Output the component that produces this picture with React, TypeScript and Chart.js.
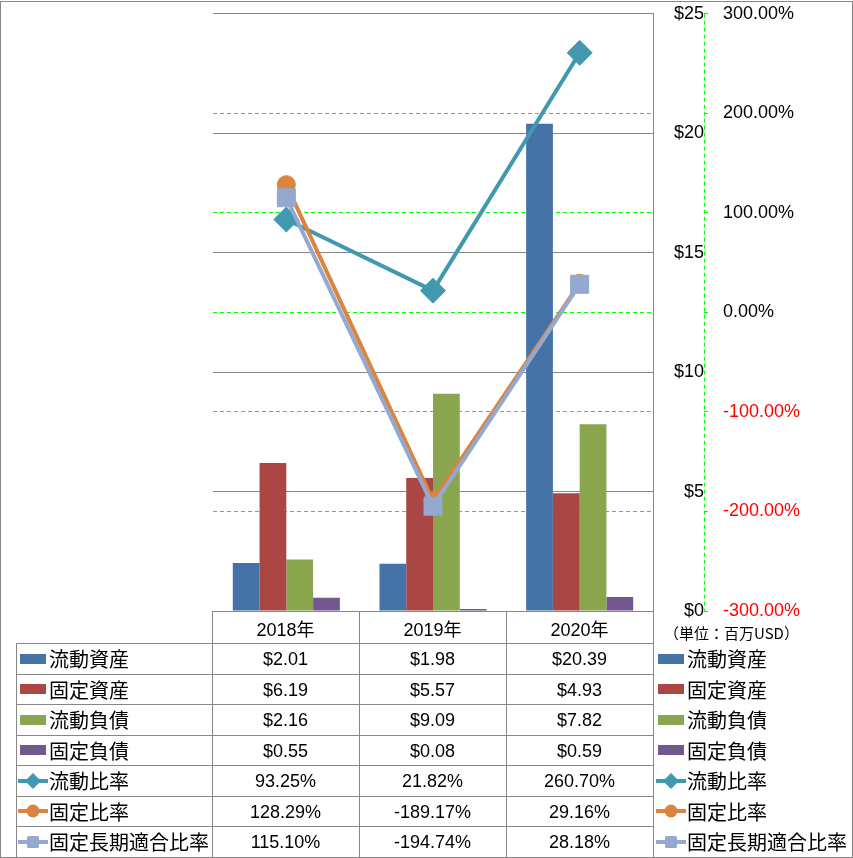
import React, { useEffect, useRef } from 'react';
import { Chart, registerables } from 'chart.js';
Chart.register(...registerables);

const categories = ['2018年', '2019年', '2020年'];
const currentAssets = [2.01, 1.98, 20.39];
const fixedAssets = [6.19, 5.57, 4.93];
const currentLiabilities = [2.16, 9.09, 7.82];
const fixedLiabilities = [0.55, 0.08, 0.59];
const currentRatio = [93.25, 21.82, 260.7];
const fixedRatio = [128.29, -189.17, 29.16];
const fixedLongTermRatio = [115.1, -194.74, 28.18];
const unitLabel = '（単位：百万USD）';

const barSeries = [
  { name: '流動資産', data: currentAssets, color: '#4572A7' },
  { name: '固定資産', data: fixedAssets, color: '#AA4643' },
  { name: '流動負債', data: currentLiabilities, color: '#89A54E' },
  { name: '固定負債', data: fixedLiabilities, color: '#71588F' },
];
const lineSeries = [
  { name: '流動比率', data: currentRatio, color: '#4198AF', marker: 'diamond' },
  { name: '固定比率', data: fixedRatio, color: '#DB843D', marker: 'circle' },
  { name: '固定長期適合比率', data: fixedLongTermRatio, color: '#93A9CF', marker: 'square' },
];

const GRID_GRAY = '#868686';
const GREEN = '#00FF00';
const NUM_FONT = '"Liberation Sans", "Noto Sans CJK JP", sans-serif';
const JP_FONT = '"Noto Sans CJK JP", sans-serif';

const y1AxisLine = {
  id: 'y1AxisLine',
  afterDraw(chart: any) {
    const s = chart.scales.y1;
    const { ctx, chartArea } = chart;
    ctx.save();
    ctx.strokeStyle = GREEN;
    ctx.lineWidth = 1;
    ctx.setLineDash([4, 3]);
    const x = Math.round(s.left) + 0.5;
    ctx.beginPath();
    ctx.moveTo(x, chartArea.top);
    ctx.lineTo(x, chartArea.bottom);
    ctx.stroke();
    ctx.restore();
  },
};

function Key({ kind, color, marker }: { kind: string; color: string; marker?: string }) {
  return (
    <svg width={30} height={18} style={{ display: 'block' }}>
      {kind === 'bar' ? (
        <rect x={2} y={4} width={26} height={10} fill={color} />
      ) : (
        <g>
          <line x1={0} y1={9} x2={30} y2={9} stroke={color} strokeWidth={4} />
          {marker === 'diamond' && <polygon points="15,1 23,9 15,17 7,9" fill={color} />}
          {marker === 'circle' && <circle cx={15} cy={9} r={6.5} fill={color} />}
          {marker === 'square' && <rect x={9} y={3} width={12} height={12} rx={1.5} fill={color} />}
        </g>
      )}
    </svg>
  );
}

const colX = [16, 212, 359, 506, 653];
const rowY = [611, 643, 674, 704, 735, 765, 796, 826, 857];

export default function App() {
  const ref = useRef<HTMLCanvasElement>(null);
  useEffect(() => {
    const canvas = ref.current!;
    Chart.defaults.font.family = NUM_FONT;
    Chart.defaults.font.size = 18;
    Chart.defaults.color = '#000';
    const chart = new Chart(canvas, {
      type: 'bar',
      data: {
        labels: categories,
        datasets: [
          ...barSeries.map((s) => ({
            type: 'bar' as const,
            label: s.name,
            data: s.data,
            backgroundColor: s.color,
            yAxisID: 'y',
            order: 10,
            categoryPercentage: 0.73,
            barPercentage: 1,
          })),
          ...lineSeries.map((s, i) => ({
            type: 'line' as const,
            label: s.name,
            data: s.data,
            borderColor: s.color,
            backgroundColor: s.color,
            borderWidth: 4,
            yAxisID: 'y1',
            order: 3 - i,
            tension: 0,
            pointStyle: s.marker === 'diamond' ? 'rectRot' : s.marker === 'circle' ? 'circle' : 'rect',
            pointRadius: s.marker === 'diamond' ? 12.5 : s.marker === 'circle' ? 9 : 12.7,
            pointBackgroundColor: s.color,
            pointBorderColor: s.color,
            pointBorderWidth: 1,
          })),
        ] as any,
      },
      options: {
        responsive: false,
        animation: false,
        layout: { padding: { left: 213, top: 13, bottom: 247, right: 49 } },
        plugins: { legend: { display: false }, tooltip: { enabled: false } },
        scales: {
          x: { display: false, offset: true },
          y: {
            position: 'right',
            min: 0,
            max: 25,
            ticks: {
              stepSize: 5,
              callback: (v: any) => '$' + v,
              crossAlign: 'far',
              padding: 19,
              color: '#000',
            },
            grid: { color: GRID_GRAY, drawTicks: false, lineWidth: 1 },
            border: { display: true, color: GRID_GRAY },
            afterFit: (s: any) => {
              s.width = 51;
              s.paddingTop = 0;
              s.paddingBottom = 0;
            },
          },
          y1: {
            position: 'right',
            min: -300,
            max: 300,
            ticks: {
              stepSize: 100,
              callback: (v: any) => Number(v).toFixed(2) + '%',
              color: (c: any) => (c.tick && c.tick.value < 0 ? '#FF0000' : '#000'),
              padding: 15,
            },
            grid: {
              color: (c: any) => (c.tick && Math.abs(c.tick.value) === 300 ? 'rgba(0,0,0,0)' : GREEN),
              tickColor: GREEN,
              tickLength: 4,
              drawOnChartArea: true,
            },
            border: { display: false, dash: [4, 3] },
            afterFit: (s: any) => {
              s.width = 100;
              s.paddingTop = 0;
              s.paddingBottom = 0;
            },
          },
        } as any,
      },
      plugins: [y1AxisLine],
    });
    return () => chart.destroy();
  }, []);

  const rows = [
    ...barSeries.map((s) => ({ name: s.name, kind: 'bar', color: s.color, marker: undefined as any, cells: s.data.map((v) => '$' + v.toFixed(2)) })),
    ...lineSeries.map((s) => ({ name: s.name, kind: 'line', color: s.color, marker: s.marker, cells: s.data.map((v) => v.toFixed(2) + '%') })),
  ];

  const lines: any[] = [];
  for (let r = 1; r < rowY.length; r++) {
    lines.push(<div key={'h' + r} style={{ position: 'absolute', left: colX[0], top: rowY[r], width: colX[4] - colX[0] + 1, height: 1, background: GRID_GRAY }} />);
  }
  lines.push(<div key="h0" style={{ position: 'absolute', left: colX[1], top: rowY[0], width: colX[4] - colX[1] + 1, height: 1, background: GRID_GRAY }} />);
  colX.forEach((x, i) => {
    const top = i === 0 ? rowY[1] : rowY[0];
    lines.push(<div key={'v' + i} style={{ position: 'absolute', left: x, top, width: 1, height: rowY[8] - top + 1, background: GRID_GRAY }} />);
  });

  const cellStyle = (l: number, t: number, w: number, h: number): any => ({
    position: 'absolute',
    left: l,
    top: t,
    width: w,
    height: h,
    display: 'flex',
    alignItems: 'center',
    justifyContent: 'center',
    fontFamily: NUM_FONT,
    fontSize: 18,
    color: '#000',
    whiteSpace: 'nowrap',
  });

  return (
    <div style={{ position: 'absolute', left: 0, top: 0, width: 853, height: 858, background: '#fff', overflow: 'hidden' }}>
      <canvas ref={ref} width={853} height={858} style={{ position: 'absolute', left: 0, top: 0, width: 853, height: 858 }} />
      <div style={{ position: 'absolute', left: 0, top: 1, width: 853, height: 857, border: '1px solid ' + GRID_GRAY, boxSizing: 'border-box' }} />
      {lines}
      {categories.map((c, i) => (
        <div key={'hd' + i} style={cellStyle(colX[i + 1], rowY[0] + 1, colX[i + 2] - colX[i + 1], rowY[1] - rowY[0])}>
          {c}
        </div>
      ))}
      {rows.map((row, r) => (
        <React.Fragment key={'r' + r}>
          <div style={{ position: 'absolute', left: 18, top: rowY[r + 1], height: rowY[r + 2] - rowY[r + 1], display: 'flex', alignItems: 'center', whiteSpace: 'nowrap' }}>
            <Key kind={row.kind} color={row.color} marker={row.marker} />
            <span style={{ fontFamily: JP_FONT, fontSize: 20, marginLeft: 1, color: '#000' }}>{row.name}</span>
          </div>
          {row.cells.map((t, c) => (
            <div key={c} style={cellStyle(colX[c + 1], rowY[r + 1] + 1, colX[c + 2] - colX[c + 1], rowY[r + 2] - rowY[r + 1])}>
              {t}
            </div>
          ))}
          <div style={{ position: 'absolute', left: 656, top: rowY[r + 1], height: rowY[r + 2] - rowY[r + 1], display: 'flex', alignItems: 'center', whiteSpace: 'nowrap' }}>
            <Key kind={row.kind} color={row.color} marker={row.marker} />
            <span style={{ fontFamily: JP_FONT, fontSize: 20, marginLeft: 1, color: '#000' }}>{row.name}</span>
          </div>
        </React.Fragment>
      ))}
      <div style={{ position: 'absolute', left: 664, top: 622, fontFamily: JP_FONT, fontSize: 15, lineHeight: '22px', color: '#000', whiteSpace: 'nowrap' }}>{unitLabel}</div>
    </div>
  );
}
